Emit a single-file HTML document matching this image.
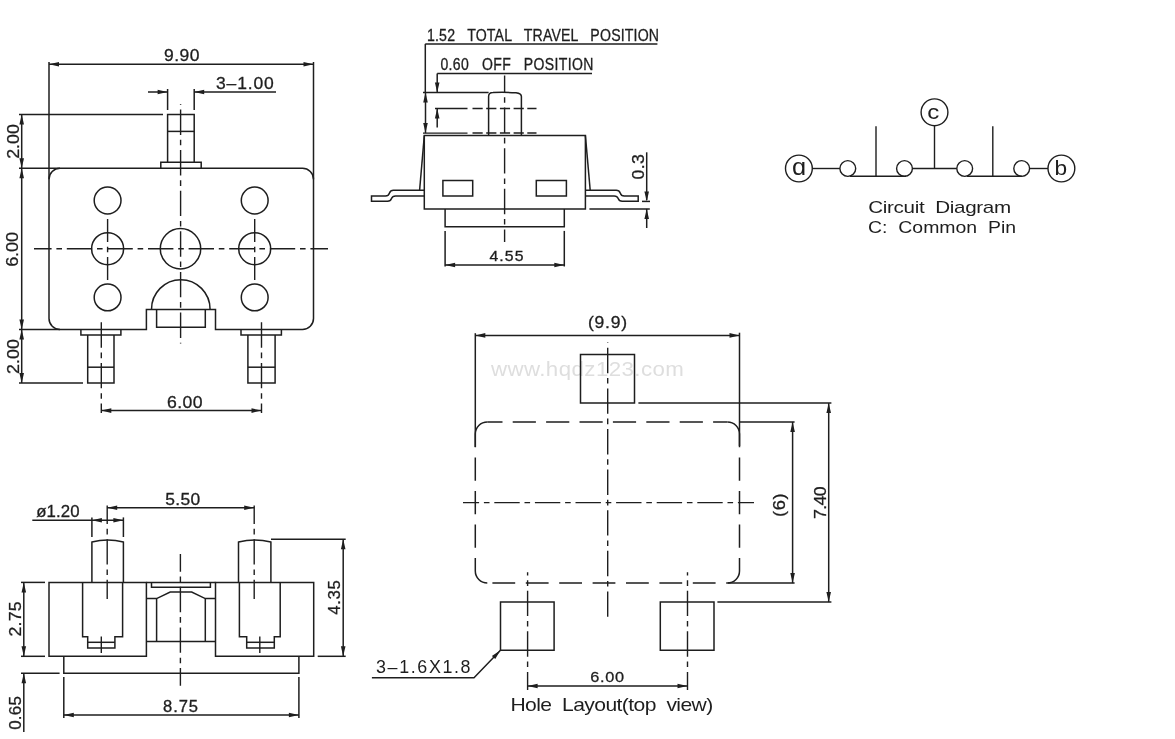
<!DOCTYPE html>
<html><head><meta charset="utf-8"><style>
html,body{margin:0;padding:0;background:#fff;}
body{width:1175px;height:739px;overflow:hidden;}
svg{display:block;will-change:transform;}
text{font-family:"Liberation Sans",sans-serif;stroke:none;white-space:pre;}
</style></head><body>
<svg width="1175" height="739" viewBox="0 0 1175 739">
<g fill="none" stroke="#1e1e1e" stroke-linecap="butt" stroke-linejoin="miter">
<style>.f{fill:#1e1e1e;stroke:none;}</style>
<text id="t15" transform="translate(490.94,376.42) scale(1.1,1)" x="0" y="0" font-size="20.27" textLength="175.46" lengthAdjust="spacing" fill="#dedede">www.hqdz123.com</text>
<path d="M60,168.3 H302.5 A11,11 0 0 1 313.5,179.3 V318.4 A11,11 0 0 1 302.5,329.4 H215.5 V309.4 H146.4 V329.4 H60 A11,11 0 0 1 49,318.4 V179.3 A11,11 0 0 1 60,168.3 Z" stroke-width="1.5" />
<line x1="19" y1="168.3" x2="60" y2="168.3" stroke-width="1.5"/>
<line x1="19" y1="329.4" x2="60" y2="329.4" stroke-width="1.5"/>
<line x1="49" y1="62" x2="49" y2="179.3" stroke-width="1.5"/>
<line x1="313.5" y1="62" x2="313.5" y2="179.3" stroke-width="1.5"/>
<line x1="49" y1="64.3" x2="313.5" y2="64.3" stroke-width="1.5"/>
<polygon class="f" points="49,64.3 59.00,62.00 59.00,66.60"/>
<polygon class="f" points="313.5,64.3 303.50,66.60 303.50,62.00"/>
<polyline points="167.6,162.3 167.6,114.4 194.2,114.4 194.2,162.3" stroke-width="1.5"/>
<line x1="167.6" y1="131.4" x2="194.2" y2="131.4" stroke-width="1.5"/>
<polyline points="160.8,168.3 160.8,162.3 201.2,162.3 201.2,168.3" stroke-width="1.5"/>
<line x1="19" y1="114.4" x2="163" y2="114.4" stroke-width="1.5"/>
<line x1="167.6" y1="89" x2="167.6" y2="110" stroke-width="1.5"/>
<line x1="194.2" y1="89" x2="194.2" y2="110" stroke-width="1.5"/>
<line x1="148" y1="92" x2="167.6" y2="92" stroke-width="1.5"/>
<polygon class="f" points="167.6,92 157.60,94.30 157.60,89.70"/>
<line x1="194.2" y1="92" x2="276" y2="92" stroke-width="1.5"/>
<polygon class="f" points="194.2,92 204.20,89.70 204.20,94.30"/>
<line x1="21.7" y1="114.4" x2="21.7" y2="383" stroke-width="1.5"/>
<polygon class="f" points="21.7,114.4 24.00,124.40 19.40,124.40"/>
<polygon class="f" points="21.7,168.3 19.40,158.30 24.00,158.30"/>
<polygon class="f" points="21.7,168.3 24.00,178.30 19.40,178.30"/>
<polygon class="f" points="21.7,329.4 19.40,319.40 24.00,319.40"/>
<polygon class="f" points="21.7,329.4 24.00,339.40 19.40,339.40"/>
<polygon class="f" points="21.7,383 19.40,373.00 24.00,373.00"/>
<line x1="19" y1="383" x2="83" y2="383" stroke-width="1.5"/>
<circle cx="107.6" cy="200.5" r="13.4" stroke-width="1.5"/>
<circle cx="107.6" cy="248.7" r="16" stroke-width="1.5"/>
<circle cx="107.6" cy="297.4" r="13.4" stroke-width="1.5"/>
<circle cx="254.7" cy="200.5" r="13.4" stroke-width="1.5"/>
<circle cx="254.7" cy="248.7" r="16" stroke-width="1.5"/>
<circle cx="254.7" cy="297.4" r="13.4" stroke-width="1.5"/>
<circle cx="180.5" cy="248.7" r="20.2" stroke-width="1.5"/>
<path d="M151.5,309.4 A29.2,29.6 0 0 1 210.1,309.4" stroke-width="1.5" />
<polyline points="156.6,309.4 156.6,327.2 205.3,327.2 205.3,309.4" stroke-width="1.5"/>
<line x1="34" y1="248.7" x2="328" y2="248.7" stroke-width="1.4" stroke-dasharray="25.4 4.8 5.6 4.8" stroke-dashoffset="7.80"/>
<line x1="180.6" y1="104" x2="180.6" y2="343.4" stroke-width="1.4" stroke-dasharray="25.4 4.8 5.6 4.8" stroke-dashoffset="35.10"/>
<line x1="107.6" y1="219" x2="107.6" y2="280" stroke-width="1.4" stroke-dasharray="25.4 4.8 5.6 4.8" stroke-dashoffset="2.50"/>
<line x1="254.7" y1="219" x2="254.7" y2="280" stroke-width="1.4" stroke-dasharray="25.4 4.8 5.6 4.8" stroke-dashoffset="2.50"/>
<polyline points="80.9,329.4 80.9,334.9 120.9,334.9 120.9,329.4" stroke-width="1.5"/>
<polyline points="87.7,334.9 87.7,383 114.0,383 114.0,334.9" stroke-width="1.5"/>
<line x1="87.7" y1="367.2" x2="114.0" y2="367.2" stroke-width="1.5"/>
<line x1="101.3" y1="318.7" x2="101.3" y2="413" stroke-width="1.4" stroke-dasharray="25.4 4.8 5.6 4.8" stroke-dashoffset="36.95"/>
<polyline points="241.0,329.4 241.0,334.9 281.4,334.9 281.4,329.4" stroke-width="1.5"/>
<polyline points="247.9,334.9 247.9,383 275.1,383 275.1,334.9" stroke-width="1.5"/>
<line x1="247.9" y1="367.2" x2="275.1" y2="367.2" stroke-width="1.5"/>
<line x1="261.5" y1="318.7" x2="261.5" y2="413" stroke-width="1.4" stroke-dasharray="25.4 4.8 5.6 4.8" stroke-dashoffset="36.95"/>
<line x1="101.3" y1="410.6" x2="261.5" y2="410.6" stroke-width="1.5"/>
<polygon class="f" points="101.3,410.6 111.30,408.30 111.30,412.90"/>
<polygon class="f" points="261.5,410.6 251.50,412.90 251.50,408.30"/>
<line x1="425.3" y1="43.9" x2="657.4" y2="43.9" stroke-width="1.5"/>
<line x1="425.3" y1="43.9" x2="425.3" y2="92.5" stroke-width="1.5"/>
<line x1="437.2" y1="73.4" x2="592" y2="73.4" stroke-width="1.5"/>
<line x1="437.2" y1="73.4" x2="437.2" y2="92.5" stroke-width="1.5"/>
<polygon class="f" points="437.2,92.5 434.90,82.50 439.50,82.50"/>
<line x1="423" y1="92.5" x2="488.6" y2="92.5" stroke-width="1.5"/>
<path d="M488.6,135.6 V96.5 Q488.6,92.5 493,92.5 Q505,92 516,92.8 Q521.4,93.5 521.4,96.5 V135.6" stroke-width="1.5" />
<line x1="504.6" y1="75.4" x2="504.6" y2="242" stroke-width="1.4" stroke-dasharray="25.4 4.8 5.6 4.8" stroke-dashoffset="8.40"/>
<line x1="435" y1="108.5" x2="467.5" y2="108.5" stroke-width="1.4"/>
<line x1="472.5" y1="108.5" x2="536.5" y2="108.5" stroke-width="1.5" stroke-dasharray="10.2 3.5"/>
<line x1="423" y1="133.1" x2="467.5" y2="133.1" stroke-width="1.4"/>
<line x1="472.5" y1="133.1" x2="536.5" y2="133.1" stroke-width="1.5" stroke-dasharray="10.2 3.5"/>
<line x1="425.5" y1="92.5" x2="425.5" y2="133.1" stroke-width="1.5"/>
<polygon class="f" points="425.5,92.5 427.80,102.50 423.20,102.50"/>
<polygon class="f" points="425.5,133.1 423.20,123.10 427.80,123.10"/>
<line x1="437.2" y1="108.5" x2="437.2" y2="127.6" stroke-width="1.5"/>
<polygon class="f" points="437.2,108.5 439.50,118.50 434.90,118.50"/>
<polygon points="424.3,135.6 585.4,135.6 585.4,208.9 424.3,208.9" stroke-width="1.5"/>
<line x1="424.3" y1="135.6" x2="419.6" y2="190.2" stroke-width="1.5"/>
<line x1="585.4" y1="135.6" x2="590.2" y2="190.2" stroke-width="1.5"/>
<polygon points="442.9,180.4 472.7,180.4 472.7,196.1 442.9,196.1" stroke-width="1.5"/>
<polygon points="536.3,180.4 566.4,180.4 566.4,196.1 536.3,196.1" stroke-width="1.5"/>
<polyline points="445.1,208.9 445.1,226.7 564.3,226.7 564.3,208.9" stroke-width="1.5"/>
<path d="M424.3,190.2 H393.5 Q390.5,190.2 389.5,193 Q388.5,196 385.5,196 H371.5 V201.3 H387.5 Q390.5,201.3 391.5,198.5 Q392.5,196 395.5,196 H424.3" stroke-width="1.5" />
<path d="M585.4,190.2 H616.2 Q619.2,190.2 620.2,193 Q621.2,196 624.2,196 H638.2 V201.3 H622.2 Q619.2,201.3 618.2,198.5 Q617.2,196 614.2,196 H585.4" stroke-width="1.5" />
<line x1="646.7" y1="152.3" x2="646.7" y2="200" stroke-width="1.5"/>
<polygon class="f" points="646.7,201.4 644.40,191.40 649.00,191.40"/>
<line x1="642" y1="201.4" x2="650" y2="201.4" stroke-width="1.5"/>
<line x1="589.4" y1="208.9" x2="649.8" y2="208.9" stroke-width="1.5"/>
<line x1="646.7" y1="208.9" x2="646.7" y2="228" stroke-width="1.5"/>
<polygon class="f" points="646.7,208.9 649.00,218.90 644.40,218.90"/>
<line x1="445.1" y1="230.9" x2="445.1" y2="266.5" stroke-width="1.5"/>
<line x1="564.3" y1="230.9" x2="564.3" y2="266.5" stroke-width="1.5"/>
<line x1="445.1" y1="265" x2="564.3" y2="265" stroke-width="1.5"/>
<polygon class="f" points="445.1,265 455.10,262.70 455.10,267.30"/>
<polygon class="f" points="564.3,265 554.30,267.30 554.30,262.70"/>
<circle cx="798.9" cy="168.5" r="13.4" stroke-width="1.4"/>
<circle cx="1061.4" cy="168.5" r="13.4" stroke-width="1.4"/>
<circle cx="934.5" cy="112.3" r="13.4" stroke-width="1.4"/>
<circle cx="847.8" cy="168.5" r="7.9" stroke-width="1.4"/>
<circle cx="904.5" cy="168.5" r="7.9" stroke-width="1.4"/>
<circle cx="964.7" cy="168.5" r="7.9" stroke-width="1.4"/>
<circle cx="1021.7" cy="168.5" r="7.9" stroke-width="1.4"/>
<line x1="812.3" y1="168.5" x2="839.9" y2="168.5" stroke-width="1.4"/>
<line x1="912.4" y1="168.5" x2="956.8" y2="168.5" stroke-width="1.4"/>
<line x1="1029.6" y1="168.5" x2="1048" y2="168.5" stroke-width="1.4"/>
<line x1="934.5" y1="125.7" x2="934.5" y2="168.5" stroke-width="1.4"/>
<line x1="850" y1="176.3" x2="906" y2="176.3" stroke-width="1.4"/>
<line x1="876" y1="126.3" x2="876" y2="176.3" stroke-width="1.4"/>
<line x1="967" y1="176.3" x2="1022" y2="176.3" stroke-width="1.4"/>
<line x1="992.8" y1="126.3" x2="992.8" y2="176.3" stroke-width="1.4"/>
<line x1="487.3" y1="421.9" x2="727.5" y2="421.9" stroke-width="1.5" stroke-dasharray="23.2 10.20" stroke-dashoffset="8.00"/>
<line x1="487.3" y1="583.1" x2="727.5" y2="583.1" stroke-width="1.5" stroke-dasharray="22.8 10.60" stroke-dashoffset="28.30"/>
<line x1="475.3" y1="433.9" x2="475.3" y2="571.1" stroke-width="1.5" stroke-dasharray="23.4 10.10" stroke-dashoffset="10.00"/>
<line x1="739.5" y1="433.9" x2="739.5" y2="571.1" stroke-width="1.5" stroke-dasharray="23.4 10.10" stroke-dashoffset="10.00"/>
<path d="M475.3,433.9 A12,12 0 0 1 487.3,421.9" stroke-width="1.5" />
<path d="M727.5,421.9 A12,12 0 0 1 739.5,433.9" stroke-width="1.5" />
<path d="M739.5,571.1 A12,12 0 0 1 727.5,583.1" stroke-width="1.5" />
<path d="M487.3,583.1 A12,12 0 0 1 475.3,571.1" stroke-width="1.5" />
<polygon points="580.5,354.5 634.5,354.5 634.5,403.1 580.5,403.1" stroke-width="1.5"/>
<polygon points="500.5,602.1 554.1,602.1 554.1,650.3 500.5,650.3" stroke-width="1.5"/>
<polygon points="660.3,602.1 714,602.1 714,650.3 660.3,650.3" stroke-width="1.5"/>
<line x1="607.7" y1="342.6" x2="607.7" y2="618.3" stroke-width="1.4" stroke-dasharray="25.4 4.8 5.6 4.8" stroke-dashoffset="35.40"/>
<line x1="463" y1="502.6" x2="754" y2="502.6" stroke-width="1.4" stroke-dasharray="25.4 4.8 5.6 4.8" stroke-dashoffset="9.30"/>
<line x1="527.6" y1="572.3" x2="527.6" y2="690" stroke-width="1.4" stroke-dasharray="25.4 4.8 5.6 4.8" stroke-dashoffset="22.20"/>
<line x1="687.5" y1="572.3" x2="687.5" y2="690" stroke-width="1.4" stroke-dasharray="25.4 4.8 5.6 4.8" stroke-dashoffset="22.20"/>
<line x1="475.3" y1="333.2" x2="475.3" y2="447" stroke-width="1.5"/>
<line x1="739.5" y1="332.7" x2="739.5" y2="446" stroke-width="1.5"/>
<line x1="475.3" y1="335.4" x2="739.5" y2="335.4" stroke-width="1.5"/>
<polygon class="f" points="475.3,335.4 485.30,333.10 485.30,337.70"/>
<polygon class="f" points="739.5,335.4 729.50,337.70 729.50,333.10"/>
<line x1="638.4" y1="403.1" x2="831.4" y2="403.1" stroke-width="1.5"/>
<line x1="739.5" y1="421.9" x2="794.6" y2="421.9" stroke-width="1.5"/>
<line x1="717.4" y1="602.1" x2="831.4" y2="602.1" stroke-width="1.5"/>
<line x1="727.5" y1="583.1" x2="794.6" y2="583.1" stroke-width="1.5"/>
<line x1="792.6" y1="421.9" x2="792.6" y2="583.1" stroke-width="1.5"/>
<polygon class="f" points="792.6,421.9 794.90,431.90 790.30,431.90"/>
<polygon class="f" points="792.6,583.1 790.30,573.10 794.90,573.10"/>
<line x1="828.7" y1="403.1" x2="828.7" y2="602.1" stroke-width="1.5"/>
<polygon class="f" points="828.7,403.1 831.00,413.10 826.40,413.10"/>
<polygon class="f" points="828.7,602.1 826.40,592.10 831.00,592.10"/>
<line x1="527.6" y1="686" x2="687.5" y2="686" stroke-width="1.5"/>
<polygon class="f" points="527.6,686 537.60,683.70 537.60,688.30"/>
<polygon class="f" points="687.5,686 677.50,688.30 677.50,683.70"/>
<polyline points="371.9,677.8 474,677.8 500.5,650.3" stroke-width="1.5"/>
<polygon class="f" points="500.5,650.3 495.23,659.10 491.91,655.91"/>
<polygon points="49,582.4 146.4,582.4 146.4,656.3 49,656.3" stroke-width="1.5"/>
<polygon points="215.5,582.4 313.7,582.4 313.7,656.3 215.5,656.3" stroke-width="1.5"/>
<line x1="146.4" y1="582.4" x2="215.5" y2="582.4" stroke-width="1.5"/>
<line x1="146.4" y1="641.5" x2="215.5" y2="641.5" stroke-width="1.5"/>
<polyline points="151.5,582.4 151.5,587.2 210.4,587.2 210.4,582.4" stroke-width="1.5"/>
<polyline points="146.4,598.6 156.6,598.6 170.2,592.1 191.7,592.1 205.3,598.6 215.5,598.6" stroke-width="1.5"/>
<line x1="156.6" y1="598.6" x2="156.6" y2="641.5" stroke-width="1.5"/>
<line x1="205.3" y1="598.6" x2="205.3" y2="641.5" stroke-width="1.5"/>
<polyline points="63.8,656.3 63.8,673.3 298.9,673.3 298.9,656.3" stroke-width="1.5"/>
<polyline points="82.6,582.4 82.6,636.7 87.7,636.7 87.7,648 114.9,648 114.9,636.7 122.6,636.7 122.6,582.4" stroke-width="1.5"/>
<line x1="87.7" y1="642.3" x2="114.9" y2="642.3" stroke-width="1.5"/>
<polyline points="239.4,582.4 239.4,636.7 246.7,636.7 246.7,648 274.3,648 274.3,636.7 280.2,636.7 280.2,582.4" stroke-width="1.5"/>
<line x1="246.7" y1="642.3" x2="274.3" y2="642.3" stroke-width="1.5"/>
<line x1="101.3" y1="636.4" x2="101.3" y2="652.9" stroke-width="1.4"/>
<line x1="259.8" y1="636.4" x2="259.8" y2="652.9" stroke-width="1.4"/>
<path d="M91.9,582.4 V542 Q107.65,538 123.4,542 V582.4" stroke-width="1.5" />
<path d="M238.5,582.4 V542 Q254.7,538 270.9,542 V582.4" stroke-width="1.5" />
<line x1="107.2" y1="505.5" x2="107.2" y2="599" stroke-width="1.4" stroke-dasharray="25.4 4.8 5.6 4.8" stroke-dashoffset="6.90"/>
<line x1="254.2" y1="505.5" x2="254.2" y2="599" stroke-width="1.4" stroke-dasharray="25.4 4.8 5.6 4.8" stroke-dashoffset="6.90"/>
<line x1="180.4" y1="554" x2="180.4" y2="685.7" stroke-width="1.4" stroke-dasharray="25.4 4.8 5.6 4.8" stroke-dashoffset="7.75"/>
<line x1="32.3" y1="520.3" x2="123.4" y2="520.3" stroke-width="1.5"/>
<polygon class="f" points="91.9,520.3 101.90,518.00 101.90,522.60"/>
<polygon class="f" points="123.4,520.3 113.40,522.60 113.40,518.00"/>
<line x1="91.9" y1="517.4" x2="91.9" y2="537" stroke-width="1.5"/>
<line x1="123.4" y1="517.4" x2="123.4" y2="537" stroke-width="1.5"/>
<line x1="107.2" y1="507.7" x2="254.2" y2="507.7" stroke-width="1.5"/>
<polygon class="f" points="107.2,507.7 117.20,505.40 117.20,510.00"/>
<polygon class="f" points="254.2,507.7 244.20,510.00 244.20,505.40"/>
<line x1="271" y1="539.2" x2="345.7" y2="539.2" stroke-width="1.5"/>
<line x1="317.7" y1="656.3" x2="345.7" y2="656.3" stroke-width="1.5"/>
<line x1="343.2" y1="539.2" x2="343.2" y2="656.3" stroke-width="1.5"/>
<polygon class="f" points="343.2,539.2 345.50,549.20 340.90,549.20"/>
<polygon class="f" points="343.2,656.3 340.90,646.30 345.50,646.30"/>
<line x1="21" y1="582.4" x2="45" y2="582.4" stroke-width="1.5"/>
<line x1="21" y1="656.3" x2="45" y2="656.3" stroke-width="1.5"/>
<line x1="21" y1="673.3" x2="59.6" y2="673.3" stroke-width="1.5"/>
<line x1="23.8" y1="582.4" x2="23.8" y2="656.3" stroke-width="1.5"/>
<polygon class="f" points="23.8,582.4 26.10,592.40 21.50,592.40"/>
<polygon class="f" points="23.8,656.3 21.50,646.30 26.10,646.30"/>
<line x1="23.8" y1="673.3" x2="23.8" y2="732" stroke-width="1.5"/>
<polygon class="f" points="23.8,673.3 26.10,683.30 21.50,683.30"/>
<line x1="63.8" y1="677" x2="63.8" y2="718" stroke-width="1.5"/>
<line x1="298.9" y1="677" x2="298.9" y2="718" stroke-width="1.5"/>
<line x1="63.8" y1="715" x2="298.9" y2="715" stroke-width="1.5"/>
<polygon class="f" points="63.8,715 73.80,712.70 73.80,717.30"/>
<polygon class="f" points="298.9,715 288.90,717.30 288.90,712.70"/>
<text id="t0" transform="translate(164.00,61.00) scale(1.06,1)" x="0" y="0" font-size="16.53" textLength="33.53" lengthAdjust="spacing" fill="#1e1e1e" style="stroke:#1e1e1e;stroke-width:0.3">9.90</text>
<text id="t1" transform="translate(216.00,89.00) scale(1.06,1)" x="0" y="0" font-size="16.53" textLength="54.59" lengthAdjust="spacing" fill="#1e1e1e" style="stroke:#1e1e1e;stroke-width:0.3">3–1.00</text>
<text id="t2" transform="translate(167.00,407.64) scale(1.06,1)" x="0" y="0" font-size="16.67" textLength="33.51" lengthAdjust="spacing" fill="#1e1e1e" style="stroke:#1e1e1e;stroke-width:0.3">6.00</text>
<text id="t3" transform="translate(427.00,40.84) scale(0.86,1)" x="0" y="0" font-size="16.45" textLength="269.87" lengthAdjust="spacing" fill="#1e1e1e" style="stroke:#1e1e1e;stroke-width:0.3">1.52   TOTAL   TRAVEL   POSITION</text>
<text id="t4" transform="translate(440.40,69.80) scale(0.9,1)" x="0" y="0" font-size="15.58" textLength="170.00" lengthAdjust="spacing" fill="#1e1e1e" style="stroke:#1e1e1e;stroke-width:0.3">0.60   OFF   POSITION</text>
<text id="t5" transform="translate(489.50,260.80) scale(1.06,1)" x="0" y="0" font-size="14.92" textLength="32.02" lengthAdjust="spacing" fill="#1e1e1e" style="stroke:#1e1e1e;stroke-width:0.3">4.55</text>
<text id="t6" transform="translate(868.16,212.90) scale(1.2,1)" x="0" y="0" font-size="17.19" textLength="119.21" lengthAdjust="spacing" fill="#1e1e1e">Circuit  Diagram</text>
<text id="t7" transform="translate(868.10,232.90) scale(1.2,1)" x="0" y="0" font-size="16.20" textLength="123.31" lengthAdjust="spacing" fill="#1e1e1e">C:  Common  Pin</text>
<text id="t8" transform="translate(792.00,174.82) scale(1.1,1)" x="0" y="0" font-size="23.10" textLength="17.82" lengthAdjust="spacing" fill="#1e1e1e">ɑ</text>
<text id="t9" transform="translate(927.18,119.32) scale(1.2,1)" x="0" y="0" font-size="20.03" textLength="43.00" lengthAdjust="spacing" fill="#1e1e1e">c</text>
<text id="t10" transform="translate(1054.40,174.82) scale(1.15,1)" x="0" y="0" font-size="19.72" textLength="37.92" lengthAdjust="spacing" fill="#1e1e1e">b</text>
<text id="t11" transform="translate(588.00,327.90) scale(1.06,1)" x="0" y="0" font-size="16.55" textLength="36.85" lengthAdjust="spacing" fill="#1e1e1e" style="stroke:#1e1e1e;stroke-width:0.3">(9.9)</text>
<text id="t12" transform="translate(590.28,682.36) scale(1.06,1)" x="0" y="0" font-size="15.38" textLength="31.85" lengthAdjust="spacing" fill="#1e1e1e" style="stroke:#1e1e1e;stroke-width:0.3">6.00</text>
<text id="t13" transform="translate(510.40,710.80) scale(1.15,1)" x="0" y="0" font-size="18.35" textLength="176.44" lengthAdjust="spacing" fill="#1e1e1e">Hole  Layout(top  view)</text>
<text id="t14" transform="translate(376.00,672.64) scale(1.02,1)" x="0" y="0" font-size="17.54" textLength="92.69" lengthAdjust="spacing" fill="#1e1e1e">3–1.6X1.8</text>
<text id="t16" transform="translate(36.20,516.60) scale(1.06,1)" x="0" y="0" font-size="15.87" textLength="41.04" lengthAdjust="spacing" fill="#1e1e1e" style="stroke:#1e1e1e;stroke-width:0.3">ø1.20</text>
<text id="t17" transform="translate(165.18,504.58) scale(1.06,1)" x="0" y="0" font-size="16.45" textLength="33.05" lengthAdjust="spacing" fill="#1e1e1e" style="stroke:#1e1e1e;stroke-width:0.3">5.50</text>
<text id="t18" transform="translate(163.04,711.50) scale(1.06,1)" x="0" y="0" font-size="15.64" textLength="33.00" lengthAdjust="spacing" fill="#1e1e1e" style="stroke:#1e1e1e;stroke-width:0.3">8.75</text>
<text id="t19" transform="translate(18.66,158.78) rotate(-90) scale(1.06,1)" x="0" y="0" font-size="16.77" textLength="32.63" lengthAdjust="spacing" fill="#1e1e1e" style="stroke:#1e1e1e;stroke-width:0.3">2.00</text>
<text id="t20" transform="translate(18.12,266.84) rotate(-90) scale(1.06,1)" x="0" y="0" font-size="17.05" textLength="32.84" lengthAdjust="spacing" fill="#1e1e1e" style="stroke:#1e1e1e;stroke-width:0.3">6.00</text>
<text id="t21" transform="translate(18.66,374.00) rotate(-90) scale(1.06,1)" x="0" y="0" font-size="16.77" textLength="32.99" lengthAdjust="spacing" fill="#1e1e1e" style="stroke:#1e1e1e;stroke-width:0.3">2.00</text>
<text id="t22" transform="translate(643.50,179.46) rotate(-90) scale(1.06,1)" x="0" y="0" font-size="16.64" textLength="23.74" lengthAdjust="spacing" fill="#1e1e1e" style="stroke:#1e1e1e;stroke-width:0.3">0.3</text>
<text id="t23" transform="translate(785.00,516.96) rotate(-90) scale(1.06,1)" x="0" y="0" font-size="17.29" textLength="22.22" lengthAdjust="spacing" fill="#1e1e1e" style="stroke:#1e1e1e;stroke-width:0.3">(6)</text>
<text id="t24" transform="translate(825.50,519.06) rotate(-90) scale(1.06,1)" x="0" y="0" font-size="16.80" textLength="30.87" lengthAdjust="spacing" fill="#1e1e1e" style="stroke:#1e1e1e;stroke-width:0.3">7.40</text>
<text id="t25" transform="translate(21.00,636.50) rotate(-90) scale(1.06,1)" x="0" y="0" font-size="16.64" textLength="33.02" lengthAdjust="spacing" fill="#1e1e1e" style="stroke:#1e1e1e;stroke-width:0.3">2.75</text>
<text id="t26" transform="translate(339.50,614.70) rotate(-90) scale(1.06,1)" x="0" y="0" font-size="15.81" textLength="32.63" lengthAdjust="spacing" fill="#1e1e1e" style="stroke:#1e1e1e;stroke-width:0.3">4.35</text>
<text id="t27" transform="translate(20.60,729.80) rotate(-90) scale(1.06,1)" x="0" y="0" font-size="15.95" textLength="31.72" lengthAdjust="spacing" fill="#1e1e1e" style="stroke:#1e1e1e;stroke-width:0.3">0.65</text>
</g></svg></body></html>
